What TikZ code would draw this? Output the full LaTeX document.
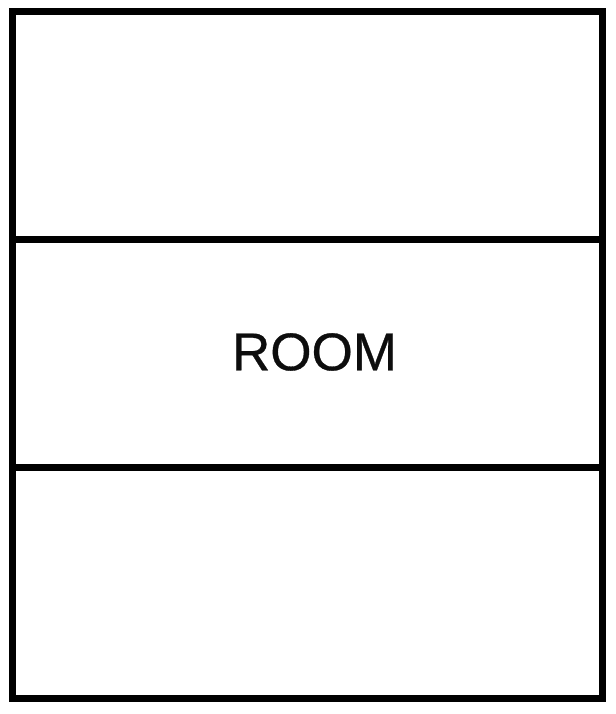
\documentclass[tikz,border=0pt]{standalone}
\usepackage{fontspec}
\setmainfont{Liberation Sans}
\newfontfamily\roomfont[FakeBold=0.6]{Liberation Sans}
\usepackage{tikz}
\tikzset{wall/.style={line width=0.07cm, line cap=rect}}
\begin{document}
\begin{tikzpicture}
                \useasboundingbox (0, 0) rectangle (6.15, 7.14);

                \draw[wall] (0.125, 0.155) rectangle (6.025, 7.025); % outer
                \draw[wall] (0.125, 4.74) -- (6.025, 4.74);
                \draw[wall] (0.125, 2.46) -- (6.025, 2.46);

                \node[font=\roomfont\fontsize{15.1}{18}\selectfont, text=black!95] (room) at (3.145, 3.62) {ROOM};
            \end{tikzpicture}
\end{document}
